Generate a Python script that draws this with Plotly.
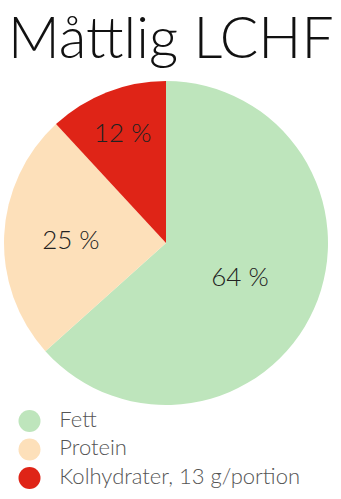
import plotly.graph_objects as go

title = "Måttlig LCHF"
categories = ["Fett", "Protein", "Kolhydrater, 13 g/portion"]
values = [64, 25, 12]
value_labels = ["64 %", "25 %", "12 %"]
colors = ["#BEE5BC", "#FDE0BA", "#DF2417"]

FONT = "Lato"

fig = go.Figure()

fig.add_trace(go.Pie(
    values=values,
    labels=categories,
    text=value_labels,
    textinfo="text",
    texttemplate="%{text}",
    sort=False,
    direction="clockwise",
    rotation=0,
    marker=dict(colors=colors, line=dict(width=0)),
    insidetextfont=dict(family=FONT, size=26, color="#222222", weight=300),
    insidetextorientation="horizontal",
    showlegend=False,
    hoverinfo="skip",
    domain=dict(x=[4/341, 328/341], y=[94/499, 418/499]),
))

# legend circles
fig.add_trace(go.Scatter(
    x=[0] * len(categories),
    y=categories,
    mode="markers",
    marker=dict(symbol="circle", size=22, color=colors, line=dict(width=0)),
    showlegend=False,
    hoverinfo="skip",
    cliponaxis=False,
))
# legend labels (invisible larger marker sets the text offset)
fig.add_trace(go.Scatter(
    x=[0] * len(categories),
    y=categories,
    mode="markers+text",
    marker=dict(symbol="circle", size=46, color="rgba(0,0,0,0)", line=dict(width=0)),
    text=categories,
    textposition="middle right",
    textfont=dict(family=FONT, size=22, color="#555555", weight=300),
    showlegend=False,
    hoverinfo="skip",
    cliponaxis=False,
))

fig.add_annotation(
    text=title, xref="paper", yref="paper", x=0.5, y=1.0, xanchor="center", yanchor="top",
    showarrow=False, font=dict(family=FONT, size=57, color="#111111", weight=300),
)

fig.update_layout(
    width=341, height=499,
    margin=dict(l=0, r=0, t=0, b=0),
    paper_bgcolor="white", plot_bgcolor="white",
    showlegend=False,
    xaxis=dict(domain=[0, 1], range=[-29.5, 311.5], visible=False, fixedrange=True),
    yaxis=dict(domain=[6.75/499, 92.25/499], type="category", categoryorder="array",
               categoryarray=categories, range=[2.5, -0.5], visible=False, fixedrange=True),
)

fig.write_html("out.html")
